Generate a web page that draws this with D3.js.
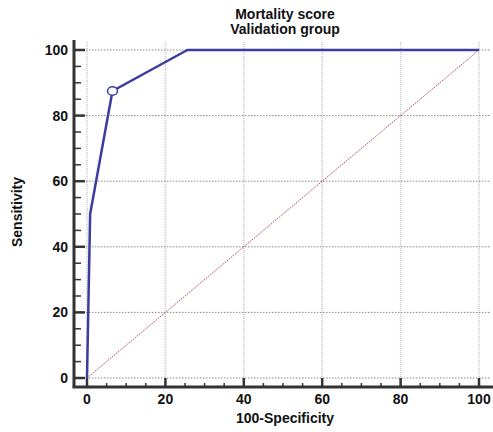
<!DOCTYPE html>
<html>
<head>
<meta charset="utf-8">
<script src="https://cdn.jsdelivr.net/npm/d3@7"></script>
<style>
  body { margin: 0; background: #fff; }
  text { font-family: "Liberation Sans", Arial, sans-serif; font-weight: bold; fill: #111; }
</style>
</head>
<body>
<div id="chart"></div>
<script>
// ROC curve
const fpr = [0, 0.8, 6.5, 25.6, 100];
const tpr = [0, 50, 87.5, 100, 100];
const cutoffIndex = 2;
const ticks = [0, 20, 40, 60, 80, 100];
const minorTicks = d3.range(0, 101, 5);
const titleLines = ["Mortality score", "Validation group"];

const width = 493, height = 432;

const x = d3.scaleLinear().domain([0, 100]).range([87, 479]);
const y = d3.scaleLinear().domain([0, 100]).range([378, 50]);

const plotLeft = 74, plotRight = 491, plotTop = 40, plotBottom = 387;

const svg = d3.select("#chart").append("svg")
  .attr("width", width)
  .attr("height", height);

// grid
svg.append("g")
  .selectAll("line")
  .data(ticks)
  .join("line")
    .attr("x1", d => x(d)).attr("x2", d => x(d))
    .attr("y1", plotTop + 2).attr("y2", plotBottom)
    .attr("stroke", "#c8c8c8")
    .attr("stroke-width", 1.5)
    .attr("stroke-dasharray", "1,1");

svg.append("g")
  .selectAll("line")
  .data(ticks)
  .join("line")
    .attr("x1", plotLeft).attr("x2", plotRight)
    .attr("y1", d => y(d)).attr("y2", d => y(d))
    .attr("stroke", "#888")
    .attr("stroke-width", 1)
    .attr("stroke-dasharray", "1.5,1.5");

// diagonal reference line
svg.append("line")
  .attr("x1", x(0)).attr("y1", y(0))
  .attr("x2", x(100)).attr("y2", y(100))
  .attr("stroke", "#b85050")
  .attr("stroke-width", 1)
  .attr("stroke-dasharray", "1.5,1");

// axes
const axisColor = "#333";
svg.append("line")
  .attr("x1", plotLeft).attr("x2", plotLeft)
  .attr("y1", plotTop).attr("y2", plotBottom)
  .attr("stroke", axisColor).attr("stroke-width", 3);
svg.append("line")
  .attr("x1", plotLeft - 1.5).attr("x2", plotRight + 2)
  .attr("y1", plotBottom).attr("y2", plotBottom)
  .attr("stroke", axisColor).attr("stroke-width", 3);

// y ticks (inward)
svg.append("g")
  .selectAll("line")
  .data(minorTicks)
  .join("line")
    .attr("x1", plotLeft)
    .attr("x2", d => d % 20 === 0 ? plotLeft + 11 : plotLeft + 7)
    .attr("y1", d => y(d)).attr("y2", d => y(d))
    .attr("stroke", axisColor)
    .attr("stroke-width", d => d % 20 === 0 ? 2.5 : 1.5);

// x ticks (inward)
svg.append("g")
  .selectAll("line")
  .data(minorTicks)
  .join("line")
    .attr("x1", d => x(d)).attr("x2", d => x(d))
    .attr("y1", plotBottom)
    .attr("y2", d => d % 20 === 0 ? plotBottom - 9 : plotBottom - 4)
    .attr("stroke", axisColor)
    .attr("stroke-width", d => d % 20 === 0 ? 2.5 : 1.5);

// tick labels
svg.append("g")
  .selectAll("text")
  .data(ticks)
  .join("text")
    .attr("x", 68)
    .attr("y", d => y(d))
    .attr("dy", "0.36em")
    .attr("text-anchor", "end")
    .style("font-size", "14px")
    .text(d => d);

svg.append("g")
  .selectAll("text")
  .data(ticks)
  .join("text")
    .attr("x", d => x(d))
    .attr("y", 404)
    .attr("text-anchor", "middle")
    .style("font-size", "14px")
    .text(d => d);

// ROC curve
const pts = fpr.map((v, i) => [v, tpr[i]]);
const line = d3.line().x(d => x(d[0])).y(d => y(d[1]));
svg.append("path")
  .attr("d", line(pts))
  .attr("fill", "none")
  .attr("stroke", "#3c3ca0")
  .attr("stroke-width", 2.5)
  .attr("stroke-linejoin", "round");

svg.append("ellipse")
  .attr("cx", x(fpr[cutoffIndex]))
  .attr("cy", y(tpr[cutoffIndex]))
  .attr("rx", 5).attr("ry", 4.3)
  .attr("fill", "#fff")
  .attr("stroke", "#3c3ca0")
  .attr("stroke-width", 1.5);

// titles
svg.append("g")
  .selectAll("text")
  .data(titleLines)
  .join("text")
    .attr("x", 285)
    .attr("y", (d, i) => 19 + i * 15)
    .attr("text-anchor", "middle")
    .style("font-size", "14px")
    .text(d => d);

svg.append("text")
  .attr("x", 285)
  .attr("y", 423)
  .attr("text-anchor", "middle")
  .style("font-size", "14px")
  .text("100-Specificity");

svg.append("text")
  .attr("transform", "translate(22,212) rotate(-90)")
  .attr("text-anchor", "middle")
  .style("font-size", "14px")
  .text("Sensitivity");
</script>
</body>
</html>
